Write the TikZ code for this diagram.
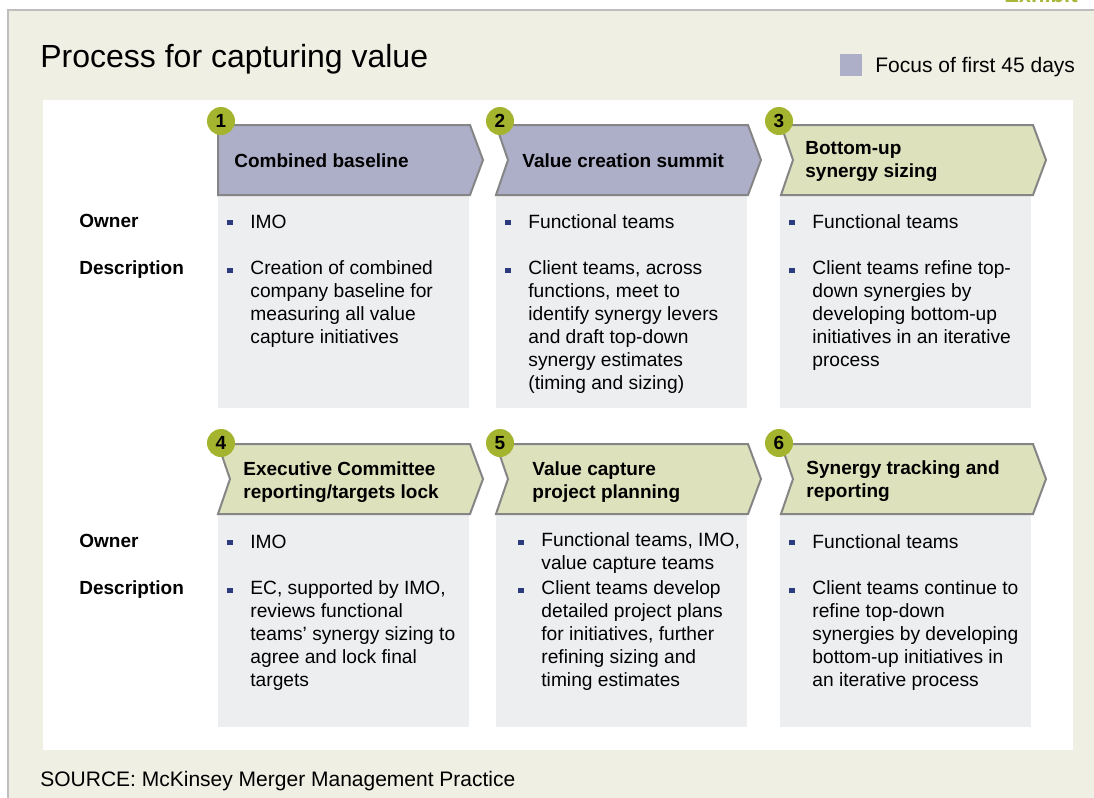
\documentclass[tikz,border=0pt]{standalone}
\usepackage{fontspec}
\setmainfont{Liberation Sans}

\definecolor{panelbg}{HTML}{EFEFE4}
\definecolor{framegray}{HTML}{BEBEBE}
\definecolor{boxgray}{HTML}{EDEEF0}
\definecolor{chevblue}{HTML}{ADAFC9}
\definecolor{chevgreen}{HTML}{DEE2BC}
\definecolor{chevline}{HTML}{858585}
\definecolor{numgreen}{HTML}{A5B42E}
\definecolor{bulletnavy}{HTML}{2B3B7E}
\definecolor{exhibitgreen}{HTML}{A9B73A}

\begin{document}
\begin{tikzpicture}
  [
    x=0.5pt, y=-0.5pt,
    chev/.style  = {draw=chevline, line width=1pt, line join=miter},
    head/.style  = {anchor=west, align=left, inner sep=0,
                    font=\bfseries\fontsize{9.5}{11.5}\selectfont},
    num/.style   = {circle, fill=numgreen, minimum size=14pt, inner sep=0,
                    font=\bfseries\fontsize{9.5}{10}\selectfont},
    rowname/.style = {anchor=base west, inner sep=0,
                    font=\bfseries\fontsize{9.5}{11.5}\selectfont},
    item/.style  = {anchor=north west, align=left, inner sep=0,
                    font=\fontsize{9.6}{11.5}\selectfont,
                    execute at begin node=\strut},
    dot/.style   = {fill=bulletnavy, minimum size=2.6pt, inner sep=0}
  ]
  \useasboundingbox (0,0) rectangle (1094,798);
  \clip (0,0) rectangle (1094,798);

  % frame and panels
  \fill[white] (0,0) rectangle (1094,798);
  \fill[panelbg] (8,10) rectangle (1094,798);
  \draw[framegray, line width=1.2pt] (8,798) -- (8,10) -- (1094,10);
  \fill[white] (43,100) rectangle (1073,750);
  \node[anchor=base east, inner sep=0, text=exhibitgreen,
        font=\bfseries\fontsize{11}{12}\selectfont] (exhibit) at (1078,2) {Exhibit};

  % title and legend
  \node[anchor=base west, inner sep=0, font=\fontsize{16}{19}\selectfont]
    (title) at (40,67) {Process for capturing value};
  \node[fill=chevblue, minimum size=11pt, inner sep=0] (key) at (851,64.5) {};
  \node[anchor=base west, inner sep=0, font=\fontsize{10.5}{12}\selectfont]
    (keytext) at (875,72) {Focus of first 45 days};

  % gray columns
  \foreach \x/\y in {218/195, 496/195, 780/195, 218/514, 496/514, 780/514}
    \fill[boxgray] (\x,\y) rectangle ++(251,213);

  % chevrons
  \foreach \x/\y/\k/\c in {218/125/0/chevblue, 496/125/12/chevblue,
                           781/125/12/chevgreen, 218/444/12/chevgreen,
                           496/444/12/chevgreen, 781/444/12/chevgreen}
    \draw[chev, fill=\c] (\x,\y) -- ++(252,0) -- ++(13,35) -- ++(-13,35)
      -- ++(-252,0) -- ++(\k,-35) -- cycle;

  \node[head] (c1) at (234,161) {Combined baseline};
  \node[head] (c2) at (522,161) {Value creation summit};
  \node[head] (c3) at (805,161) {Bottom-up\\synergy sizing};
  \node[head] (c4) at (243,482) {Executive Committee\\reporting/targets lock};
  \node[head] (c5) at (532,482) {Value capture\\project planning};
  \node[head] (c6) at (806,481) {Synergy tracking and\\reporting};

  % step numbers
  \foreach \n/\x/\y in {1/221/121, 2/500/121, 3/779/121,
                        4/221/443, 5/500/443, 6/779/443}
    \node[num] (n\n) at (\x,\y) {\n};

  % row names
  \node[rowname] (own1)  at (79,227) {Owner};
  \node[rowname] (desc1) at (79,274) {Description};
  \node[rowname] (own2)  at (79,547) {Owner};
  \node[rowname] (desc2) at (79,594) {Description};

  % column texts
  \node[item] (o1) at (250,212) {IMO};
  \node[item] (d1) at (250,260) {Creation of combined\\company baseline for\\measuring all value\\capture initiatives};
  \node[item] (o2) at (528,212) {Functional teams};
  \node[item] (d2) at (528,260) {Client teams, across\\functions, meet to\\identify synergy levers\\and draft top-down\\synergy estimates\\(timing and sizing)};
  \node[item] (o3) at (812,212) {Functional teams};
  \node[item] (d3) at (812,260) {Client teams refine top-\\down synergies by\\developing bottom-up\\initiatives in an iterative\\process};
  \node[item] (o4) at (250,532) {IMO};
  \node[item] (d4) at (250,580) {EC, supported by IMO,\\reviews functional\\teams’ synergy sizing to\\agree and lock final\\targets};
  \node[item] (o5) at (541,532) {Functional teams, IMO,\\value capture teams};
  \node[item] (d5) at (541,580) {Client teams develop\\detailed project plans\\for initiatives, further\\refining sizing and\\timing estimates};
  \node[item] (o6) at (812,532) {Functional teams};
  \node[item] (d6) at (812,580) {Client teams continue to\\refine top-down\\synergies by developing\\bottom-up initiatives in\\an iterative process};

  % bullets
  \foreach \t in {o1,d1,o2,d2,o3,d3,o4,d4,o5,d5,o6,d6}
    \node[dot] (\t dot) at ([shift={(-10pt,-5.25pt)}]\t.north west) {};

  % source
  \node[anchor=base west, inner sep=0, font=\fontsize{10.5}{12}\selectfont]
    (source) at (40,786) {SOURCE: McKinsey Merger Management Practice};
\end{tikzpicture}
\end{document}
